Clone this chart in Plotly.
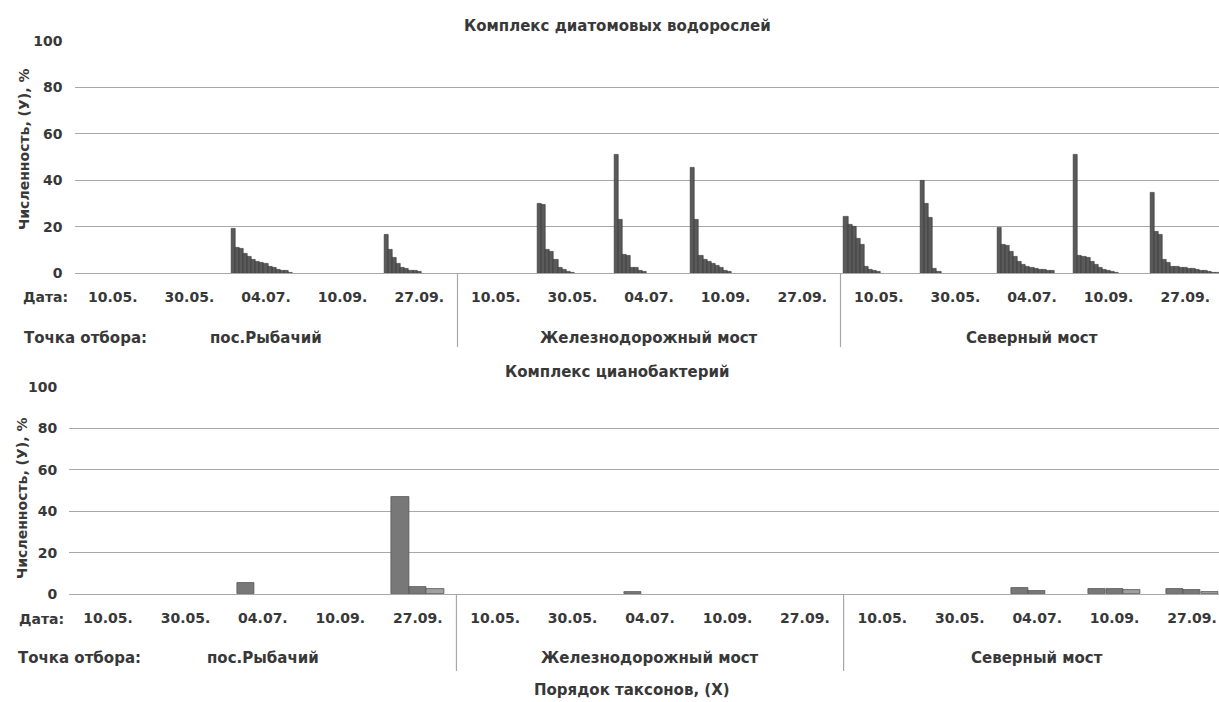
import plotly.graph_objects as go

# ---------------- data ----------------
dates = ["10.05.", "30.05.", "04.07.", "10.09.", "27.09."]
sites = ["пос.Рыбачий", "Железнодорожный мост", "Северный мост"]

# Diatom complex: relative abundance (%) of taxa ordered by rank, per sampling date
diatoms_rybachiy = [
    [],
    [],
    [19, 11, 10.5, 8.5, 7, 5.7, 5, 4.7, 4.3, 3, 2.2, 1.7, 1.3, 1, 0.4],
    [],
    [16.5, 10, 6.5, 4, 2.5, 1.8, 1.3, 1, 0.6],
]
diatoms_zhd_most = [
    [],
    [30, 29.5, 10, 9.5, 6, 2.2, 1.4, 0.8, 0.4],
    [51, 23, 8, 7.5, 2.5, 2.2, 1.2, 0.6],
    [45.5, 23, 7.5, 6, 5, 4.2, 3.3, 2.2, 1.3, 0.6],
    [],
]
diatoms_severny = [
    [24.5, 21, 20, 15, 12.5, 3, 1.7, 1, 0.5],
    [40, 30, 24, 2, 0.5],
    [19.5, 12.5, 12, 9.5, 7, 5, 3.7, 3, 2.3, 2, 1.5, 1.4, 1.2, 1],
    [51, 7.5, 7, 6.5, 5, 3.5, 2.5, 1.5, 1, 0.5, 0.3],
    [34.5, 18, 16.5, 6, 4.5, 3, 2.8, 2.5, 2.2, 2, 1.8, 1.5, 1.2, 1, 0.6, 0.4, 0.3],
]

# Cyanobacteria complex
cyano_rybachiy = [[], [], [5.5], [], [47, 3.5, 2.3]]
cyano_zhd_most = [[], [], [0.8], [], []]
cyano_severny = [[], [], [3, 1.3], [2.6, 2.5, 2], [2.3, 1.8, 1]]

y_ticks = [0, 20, 40, 60, 80, 100]

# ---------------- helpers ----------------
W, H = 1219, 702


def px(xp):
    return xp / W


def py(yp):
    return 1 - yp / H


FONT = "DejaVu Sans"
TXT = "#383838"
GRID = "#a8a8a8"


def build_xy(groups_by_site, slots, edge):
    xs, ys, ranks = [], [], []
    bw = (1 - 2 * edge) / slots
    for s, site_groups in enumerate(groups_by_site):
        for d, vals in enumerate(site_groups):
            g = s * 5 + d
            for i, v in enumerate(vals):
                xs.append(g + edge + (i + 0.5) * bw)
                ys.append(v)
                ranks.append(i)
    return xs, ys, ranks, bw * 0.98


top_x, top_y, top_r, top_w = build_xy(
    [diatoms_rybachiy, diatoms_zhd_most, diatoms_severny], slots=17, edge=0.045)
bot_x, bot_y, bot_r, bot_w = build_xy(
    [cyano_rybachiy, cyano_zhd_most, cyano_severny], slots=3, edge=0.161)

bot_colors = ["#787878" if r < 2 else "#a0a0a0" for r in bot_r]

fig = go.Figure()
fig.add_trace(go.Bar(
    x=top_x, y=top_y, width=top_w, xaxis="x", yaxis="y",
    marker=dict(color="#5a5a5a", line=dict(color="#2e2e2e", width=0.6)),
    showlegend=False, hoverinfo="y"))
fig.add_trace(go.Bar(
    x=bot_x, y=bot_y, width=bot_w, xaxis="x2", yaxis="y2",
    marker=dict(color=bot_colors, line=dict(color="#555555", width=0.8)),
    showlegend=False, hoverinfo="y"))

tickvals = [g + 0.5 for g in range(15)]
ticktext = dates * 3

top_left, top_gw = 74.5, 76.6
bot_left, bot_gw = 69.3, 77.43

common_x = dict(
    tickvals=tickvals, ticktext=ticktext, showgrid=False, zeroline=False,
    showline=True, linecolor=GRID, linewidth=1.2, ticks="",
    tickfont=dict(family=FONT, size=14, color=TXT, weight="bold"),
    ticklabelstandoff=11, ticklabeloverflow="allow", fixedrange=True)
common_y = dict(
    range=[0, 100], tickvals=y_ticks, showgrid=True, gridcolor=GRID, gridwidth=1.2,
    zeroline=False, showline=False, ticks="",
    tickfont=dict(family=FONT, size=14, color=TXT, weight="bold"),
    ticklabelstandoff=11, fixedrange=True)

fig.update_layout(
    width=W, height=H,
    margin=dict(l=0, r=0, t=0, b=0, autoexpand=False),
    paper_bgcolor="white", plot_bgcolor="white",
    bargap=0,
    xaxis=dict(domain=[px(top_left), 1], range=[0, (W - top_left) / top_gw],
               anchor="y", **common_x),
    yaxis=dict(domain=[py(273.3), py(40.7)], anchor="x", **common_y),
    xaxis2=dict(domain=[px(bot_left), 1], range=[0, (W - bot_left) / bot_gw],
                anchor="y2", **common_x),
    yaxis2=dict(domain=[py(594), py(387)], anchor="x2", **common_y),
)

annots = []


def add_text(text, x, y, size=15, xref="paper", xanchor="center", angle=0):
    annots.append(dict(
        text=text, x=x, y=y, xref=xref, yref="paper", xanchor=xanchor,
        yanchor="middle", showarrow=False, textangle=angle,
        font=dict(family=FONT, size=size, color=TXT, weight="bold")))


# titles
add_text("Комплекс диатомовых водорослей", px(617), py(26), size=15)
add_text("Комплекс цианобактерий", px(617), py(372), size=15)
# y titles
add_text("Численность, (У), %", px(24), py(150), size=14, angle=-90)
add_text("Численность, (У), %", px(22), py(499), size=14, angle=-90)
# row labels
add_text("Дата:", px(21), py(297), size=14, xanchor="left")
add_text("Дата:", px(17), py(619), size=14, xanchor="left")
add_text("Точка отбора:", px(22), py(338), size=15, xanchor="left")
add_text("Точка отбора:", px(16), py(658), size=15, xanchor="left")
# site labels
for s, name in enumerate(sites):
    add_text(name, s * 5 + 2.5, py(338), size=15, xref="x")
    add_text(name, s * 5 + 2.5, py(658), size=15, xref="x2")
# x title
add_text("Порядок таксонов, (X)", px(632), py(690), size=15)

shapes = []
for b in (5, 10):
    shapes.append(dict(type="line", xref="x", yref="paper", x0=b, x1=b,
                       y0=py(273.3), y1=py(347), line=dict(color=GRID, width=1.2)))
    shapes.append(dict(type="line", xref="x2", yref="paper", x0=b, x1=b,
                       y0=py(594), y1=py(671), line=dict(color=GRID, width=1.2)))

fig.update_layout(annotations=annots, shapes=shapes)
fig.write_html(
    "out.html",
    config={"displayModeBar": False},
    post_script="document.body.style.margin='0';document.body.style.overflow='hidden';",
)
